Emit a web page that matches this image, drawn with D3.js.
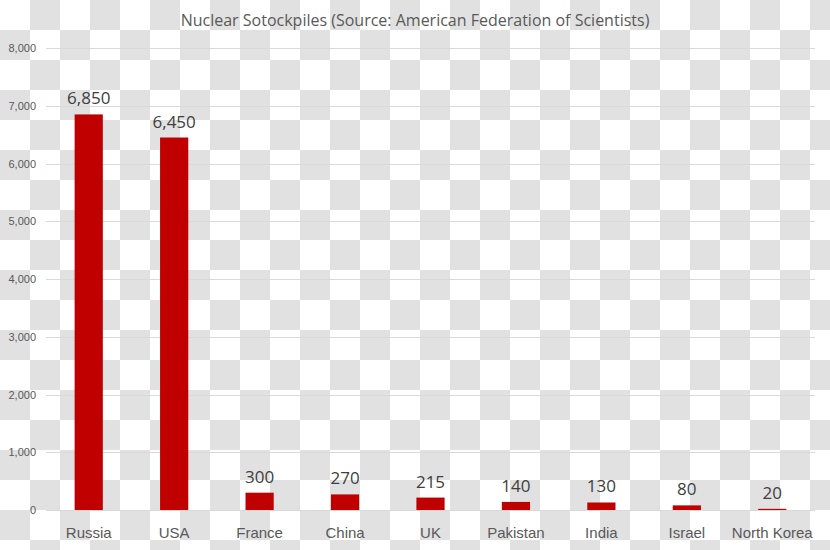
<!DOCTYPE html>
<html>
<head>
<meta charset="utf-8">
<script src="https://cdn.jsdelivr.net/npm/d3@7"></script>
<style>
  body { margin: 0; }
  svg { display: block; font-family: "Open Sans", "Noto Sans", sans-serif; }
</style>
</head>
<body>
<script>
// the data
const countries = ["Russia", "USA", "France", "China", "UK", "Pakistan", "India", "Israel", "North Korea"];
const warheads = [6850, 6450, 300, 270, 215, 140, 130, 80, 20];
const yTicks = [0, 1000, 2000, 3000, 4000, 5000, 6000, 7000, 8000];

const width = 830, height = 550;

const svg = d3.select("body").append("svg")
    .attr("width", width)
    .attr("height", height);

// checkerboard background
const sq = 30;
const cells = [];
for (let r = 0; r < Math.ceil(height / sq); r++) {
  for (let c = 0; c < Math.ceil(width / sq); c++) {
    cells.push({r: r, c: c});
  }
}
svg.append("rect").attr("width", width).attr("height", height).attr("fill", "#ffffff");
svg.append("g").selectAll("rect")
    .data(cells.filter(d => (d.r + d.c) % 2 == 1))
    .join("rect")
    .attr("x", d => d.c * sq)
    .attr("y", d => d.r * sq)
    .attr("width", sq)
    .attr("height", sq)
    .attr("fill", "#e1e1e1");

const x = d3.scaleBand()
    .domain(countries)
    .range([46, 815])
    .paddingInner(0.67)
    .paddingOuter(0.335);

const y = d3.scaleLinear()
    .domain([0, 8000])
    .range([510, 48]);

// gridlines
svg.append("g").selectAll("line")
    .data(yTicks)
    .join("line")
    .attr("x1", 46)
    .attr("x2", 815)
    .attr("y1", d => Math.round(y(d)) + 0.5)
    .attr("y2", d => Math.round(y(d)) + 0.5)
    .attr("stroke", "#d9d9d9")
    .attr("stroke-width", 1);

// y axis labels
const yAxis = svg.append("g")
    .attr("transform", "translate(46,0)")
    .call(d3.axisLeft(y).tickValues(yTicks).tickFormat(d3.format(",")).tickSize(0).tickPadding(10));
yAxis.select(".domain").remove();
yAxis.selectAll("text")
    .attr("fill", "#595959")
    .style("font-size", "11px");

// bars
const rows = countries.map((c, i) => ({name: c, value: warheads[i]}));

svg.append("g").selectAll("rect")
    .data(rows)
    .join("rect")
    .attr("x", d => x(d.name))
    .attr("y", d => y(d.value))
    .attr("width", x.bandwidth())
    .attr("height", d => y(0) - y(d.value))
    .attr("fill", "#c00000");

// value labels
svg.append("g").selectAll("text")
    .data(rows)
    .join("text")
    .text(d => d3.format(",")(d.value))
    .attr("x", d => x(d.name) + x.bandwidth() / 2)
    .attr("y", d => y(d.value) - 10)
    .attr("text-anchor", "middle")
    .attr("fill", "#404040")
    .style("font-size", "17px");

// category labels
const xAxis = svg.append("g")
    .attr("transform", "translate(0,510)")
    .call(d3.axisBottom(x).tickSize(0).tickPadding(17));
xAxis.select(".domain").remove();
xAxis.selectAll("text")
    .attr("fill", "#595959")
    .style("font-size", "15px");

// title
svg.append("text")
    .text("Nuclear Sotockpiles (Source: American Federation of Scientists)")
    .attr("x", 415)
    .attr("y", 26)
    .attr("text-anchor", "middle")
    .attr("fill", "#595959")
    .style("font-size", "16px");
</script>
</body>
</html>
